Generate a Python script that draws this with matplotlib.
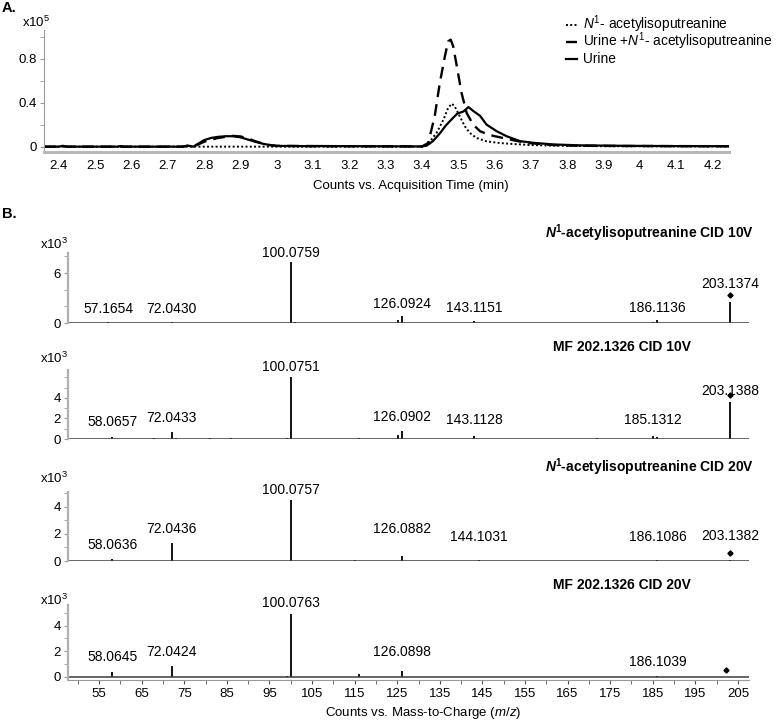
import matplotlib
matplotlib.use('Agg')
import matplotlib.pyplot as plt
from matplotlib.lines import Line2D
from matplotlib.transforms import offset_copy
from matplotlib.ticker import FixedLocator

plt.rcParams['font.family'] = ['Liberation Sans', 'DejaVu Sans']
plt.rcParams['mathtext.fontset'] = 'custom'
plt.rcParams['mathtext.rm'] = 'Liberation Sans'
plt.rcParams['mathtext.it'] = 'Liberation Sans:italic'
plt.rcParams['mathtext.bf'] = 'Liberation Sans:bold'
plt.rcParams['mathtext.sf'] = 'Liberation Sans:bold:italic'

# ---------------- Panel A data (counts x10^5 vs time, min) ----------------
t_std = [2.36, 3.40, 3.413, 3.44, 3.459, 3.472, 3.482, 3.49, 3.504, 3.518, 3.532,
         3.55, 3.578, 3.615, 3.652, 3.698, 3.762, 3.9, 4.25]
v_std = [0.0, 0.0, 0.012, 0.124, 0.245, 0.352, 0.391, 0.367, 0.276, 0.185, 0.124,
         0.079, 0.048, 0.033, 0.024, 0.015, 0.009, 0.004, 0.002]

t_spike = [2.36, 2.40, 2.41, 2.42, 2.74, 2.76, 2.78, 2.80, 2.82, 2.84, 2.86, 2.88,
           2.90, 2.92, 2.94, 2.96, 2.98, 3.00, 3.20, 3.40, 3.417, 3.435, 3.449,
           3.463, 3.472, 3.479, 3.486, 3.496, 3.509, 3.523, 3.541, 3.56, 3.587,
           3.615, 3.652, 3.688, 3.743, 3.80, 3.95, 4.10, 4.25]
v_spike = [0.0, 0.0, 0.006, 0.0, 0.0, 0.01, 0.015, 0.045, 0.065, 0.08, 0.09, 0.098,
           0.093, 0.075, 0.05, 0.03, 0.015, 0.007, 0.004, 0.002, 0.033, 0.276, 0.579,
           0.821, 0.958, 0.973, 0.912, 0.73, 0.488, 0.306, 0.2, 0.14, 0.105,
           0.085, 0.058, 0.035, 0.018, 0.01, 0.006, 0.005, 0.004]

t_urine = [2.36, 2.40, 2.41, 2.42, 2.56, 2.57, 2.58, 2.74, 2.755, 2.77, 2.785, 2.80,
           2.82, 2.84, 2.86, 2.88, 2.90, 2.92, 2.94, 2.96, 2.98, 3.00, 3.10, 3.12,
           3.16, 3.18, 3.40, 3.413, 3.43, 3.45, 3.465, 3.482, 3.497, 3.514, 3.528,
           3.541, 3.560, 3.578, 3.606, 3.633, 3.670, 3.707, 3.762, 3.835, 3.95,
           4.10, 4.25]
v_urine = [0.0, 0.0, 0.008, 0.0, 0.0, 0.005, 0.0, 0.0, 0.01, 0.0, 0.03, 0.06,
           0.08, 0.09, 0.095, 0.095, 0.085, 0.065, 0.045, 0.028, 0.015, 0.007, 0.004,
           0.006, 0.004, 0.005, 0.002, 0.01, 0.05, 0.124, 0.19, 0.25, 0.30, 0.32,
           0.36, 0.325, 0.28, 0.2, 0.14, 0.095, 0.05, 0.035, 0.02, 0.012, 0.008,
           0.005, 0.004]

timeticks = [2.4, 2.5, 2.6, 2.7, 2.8, 2.9, 3.0, 3.1, 3.2, 3.3, 3.4, 3.5, 3.6, 3.7,
             3.8, 3.9, 4.0, 4.1, 4.2]

series_names = [r'$\mathit{N}^{1}$- acetylisoputreanine',
                r'Urine +$\mathit{N}^{1}$- acetylisoputreanine',
                'Urine']

# ---------------- Panel B data (counts x10^3 vs m/z) ----------------
spec_titles = [r'$\mathsf{N}^{\mathbf{1}}$-acetylisoputreanine CID 10V',
               'MF 202.1326 CID 10V',
               r'$\mathsf{N}^{\mathbf{1}}$-acetylisoputreanine CID 20V',
               'MF 202.1326 CID 20V']

s1_mz = [57.1654, 72.0430, 85.0, 88.1, 100.0759, 101.1, 125.1, 126.0924, 143.1151,
         185.1, 186.1136, 203.1374]
s1_int = [0.15, 0.15, 0.05, 0.05, 7.3, 0.1, 0.35, 0.85, 0.25, 0.15, 0.35, 2.55]
s1_labels = ['57.1654', '72.0430', '100.0759', '126.0924', '143.1151', '186.1136',
             '203.1374']

s2_mz = [58.0657, 68.0, 72.0433, 73.0, 81.0, 86.0, 99.1, 100.0751, 116.1, 125.1,
         126.0902, 143.1128, 172.0, 185.1312, 186.1, 203.1388]
s2_int = [0.15, 0.05, 0.7, 0.1, 0.05, 0.05, 0.1, 6.0, 0.05, 0.4, 0.8, 0.25, 0.05,
          0.3, 0.2, 3.6]
s2_labels = ['58.0657', '72.0433', '100.0751', '126.0902', '143.1128', '185.1312',
             '203.1388']

s3_mz = [58.0636, 72.0436, 100.0757, 115.1, 126.0882, 144.1031, 186.1086, 203.1382]
s3_int = [0.12, 1.35, 4.5, 0.1, 0.4, 0.1, 0.1, 0.1]
s3_labels = ['58.0636', '72.0436', '100.0757', '126.0882', '144.1031', '186.1086',
             '203.1382']

s4_mz = [58.0645, 72.0424, 99.1, 100.0763, 116.1, 126.0898, 186.1039, 202.2]
s4_int = [0.4, 0.85, 0.1, 4.9, 0.2, 0.5, 0.1, 0.0]
s4_labels = ['58.0645', '72.0424', '100.0763', '126.0898', '186.1039']

precursor_mz = [203.1374, 203.1388, 203.1382, 202.2]

mz_major = [55, 65, 75, 85, 95, 105, 115, 125, 135, 145, 155, 165, 175, 185, 195, 205]
mz_minor = [50, 60, 70, 80, 90, 100, 110, 120, 130, 140, 150, 160, 170, 180, 190, 200]

# ---------------- layout ----------------
W, H = 780, 722
fig = plt.figure(figsize=(W / 100, H / 100), dpi=100)


def box(l, t, r, b):
    return [l / W, 1 - b / H, (r - l) / W, (b - t) / H]


def ftext(x, y, s, **kw):
    fig.text(x / W, 1 - y / H, s, **kw)


FS = 9.5
GRAY = '#9a9a9a'

styles = [dict(color='black', lw=1.4, ls=(0, (1, 1.2))),
          dict(color='black', lw=1.7, ls=(0, (5, 3))),
          dict(color='black', lw=1.6, ls='-')]

# Panel A
axA = fig.add_axes(box(44, 30, 729, 151.5))
for (t, v), st in zip([(t_std, v_std), (t_spike, v_spike), (t_urine, v_urine)], styles):
    axA.plot(t, v, **st)
axA.set_xlim(2.3587, 4.2457)
axA.set_ylim(-0.044, 1.061)
for s in ['top', 'right']:
    axA.spines[s].set_visible(False)
axA.spines['left'].set_color(GRAY)
axA.spines['bottom'].set_color('#b8b8b8')
axA.spines['bottom'].set_linewidth(2.2)
axA.set_xticks(timeticks)
axA.set_xticklabels([f'{v:g}' for v in timeticks])
axA.set_yticks([0, 0.4, 0.8])
axA.set_yticklabels(['0', '0.4', '0.8'])
axA.yaxis.set_minor_locator(FixedLocator([0.2, 0.6, 1.0]))
axA.tick_params(axis='x', length=0, pad=6, labelsize=FS)
axA.tick_params(axis='y', which='both', length=3, color=GRAY, labelsize=FS, pad=2)
ftext(411, 186, 'Counts vs. Acquisition Time (min)', ha='center', va='center', fontsize=FS)
ftext(22, 22, r'x10$^{5}$', ha='left', va='center', fontsize=FS)
ftext(2, 8, 'A.', ha='left', va='center', fontsize=10.5, fontweight='bold')

# legend, drawn row by row
for r, (name, st) in enumerate(zip(series_names, styles)):
    yc = 25 + 17 * r
    fig.add_artist(Line2D([566 / W, 577 / W], [1 - yc / H, 1 - yc / H],
                          transform=fig.transFigure, **st))
    ftext(583, yc + 4, name, ha='left', va='baseline', fontsize=9.9)

# Panel B
ftext(2, 214, 'B.', ha='left', va='center', fontsize=10.5, fontweight='bold')

spectra = [(s1_mz, s1_int, s1_labels), (s2_mz, s2_int, s2_labels),
           (s3_mz, s3_int, s3_labels), (s4_mz, s4_int, s4_labels)]
boxes = [(68, 253, 749, 323), (68, 370, 749, 439), (68, 492, 749, 561), (68, 605, 749, 680)]
ylims = [(0, 8.4), (0, 6.7), (0, 5.1), (-0.235, 5.6)]
majors = [[0, 6], [0, 2, 4], [0, 2, 4], [0, 2, 4]]
minors = [[2, 4, 8], [1, 3, 5, 6], [1, 3, 5], [1, 3, 5]]
label_dy = [[13, 13, 9, 12, 13, 12, 18],
            [15, 14, 10, 14, 16, 16, 11],
            [14, 14, 10, 27, 23, 23, 24],
            [15, 14, 11, 19, 14]]
title_pos = [(650, 233), (622, 347), (650, 467), (622, 585)]
xlab_y = [244, 358, 478, 600]

for i, ((mz, inten, labs), bx) in enumerate(zip(spectra, boxes)):
    ax = fig.add_axes(box(*bx))
    ax.vlines(mz, 0, inten, color='black', lw=1.3)
    ax.axhline(0, color='#3c3c3c', lw=1.1)
    ax.set_xlim(47.7, 207.6)
    ax.set_ylim(*ylims[i])
    for s in ['top', 'right']:
        ax.spines[s].set_visible(False)
    ax.spines['left'].set_color('#b0b0b0')
    ax.spines['left'].set_linewidth(1.6)
    ax.set_yticks(majors[i])
    ax.set_yticklabels([str(v) for v in majors[i]])
    ax.yaxis.set_minor_locator(FixedLocator(minors[i]))
    ax.tick_params(axis='y', which='both', length=3, color=GRAY, labelsize=FS, pad=2)
    if i < 3:
        ax.spines['bottom'].set_visible(False)
        ax.set_xticks([])
    else:
        ax.spines['bottom'].set_color(GRAY)
        ax.set_xticks(mz_major)
        ax.set_xticklabels([str(v) for v in mz_major])
        ax.xaxis.set_minor_locator(FixedLocator(mz_minor))
        ax.tick_params(axis='x', which='both', length=3, color='#555555', labelsize=FS, pad=3)
        ftext(423, 713, r'Counts vs. Mass-to-Charge ($\mathit{m/z}$)', ha='center',
              va='center', fontsize=FS)
    # peak labels
    for lab, dy in zip(labs, label_dy[i]):
        val = float(lab)
        k = min(range(len(mz)), key=lambda j: abs(mz[j] - val))
        ax.annotate(lab, (mz[k], inten[k]), xytext=(0, dy), textcoords='offset pixels',
                    ha='center', va='center', fontsize=10)
    # precursor marker
    pm = precursor_mz[i]
    k = min(range(len(mz)), key=lambda j: abs(mz[j] - pm))
    tr = offset_copy(ax.transData, fig=fig, x=0, y=7, units='dots')
    ax.plot([mz[k]], [inten[k]], marker='D', ms=2.6, color='black', transform=tr,
            clip_on=False)
    tx, ty = title_pos[i]
    ftext(tx, ty, spec_titles[i], ha='center', va='center', fontsize=10, fontweight='bold')
    ftext(40, xlab_y[i], r'x10$^{3}$', ha='left', va='center', fontsize=FS)

fig.savefig('out.png', dpi=100)
